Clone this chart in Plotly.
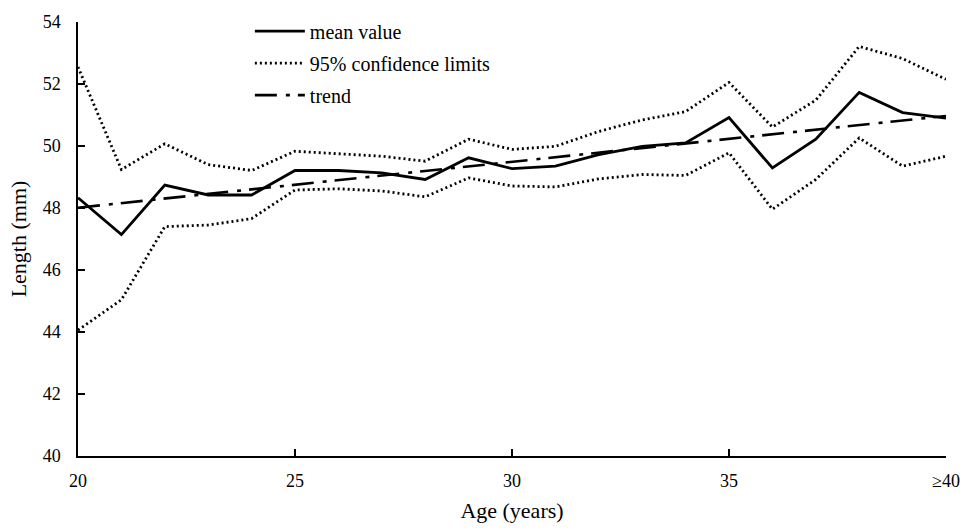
import plotly.graph_objects as go

ages = [20, 21, 22, 23, 24, 25, 26, 27, 28, 29, 30, 31, 32, 33, 34, 35, 36, 37, 38, 39, 40]
mean_value = [48.33, 47.14, 48.74, 48.42, 48.42, 49.21, 49.21, 49.13, 48.92, 49.62, 49.27,
              49.35, 49.72, 49.99, 50.10, 50.92, 49.29, 50.22, 51.73, 51.08, 50.90]
upper_ci = [52.55, 49.24, 50.07, 49.40, 49.21, 49.83, 49.75, 49.67, 49.51, 50.22, 49.89,
            49.99, 50.47, 50.84, 51.11, 52.05, 50.61, 51.48, 53.21, 52.82, 52.15]
lower_ci = [44.06, 45.04, 47.40, 47.45, 47.66, 48.58, 48.62, 48.55, 48.36, 48.97, 48.71,
            48.68, 48.94, 49.08, 49.05, 49.78, 47.96, 48.92, 50.26, 49.35, 49.67]
trend_x = [20, 40]
trend_y = [48.01, 50.97]

x_tickvals = [20, 25, 30, 35, 40]
x_ticktext = ["20", "25", "30", "35", "≥40"]
y_tickvals = [40, 42, 44, 46, 48, 50, 52, 54]

FONT = "Liberation Serif, Times New Roman, serif"

fig = go.Figure()
fig.add_trace(go.Scatter(x=ages, y=mean_value, mode="lines", name="mean value",
                         legendgroup="a", cliponaxis=False,
                         line=dict(color="black", width=2.8)))
fig.add_trace(go.Scatter(x=ages, y=upper_ci, mode="lines", name="95% confidence limits",
                         legendgroup="b", cliponaxis=False,
                         line=dict(color="black", width=2.8, dash="2px,3px")))
fig.add_trace(go.Scatter(x=ages, y=lower_ci, mode="lines", name="95% confidence limits",
                         legendgroup="b", showlegend=False, cliponaxis=False,
                         line=dict(color="black", width=2.8, dash="2px,3px")))
fig.add_trace(go.Scatter(x=trend_x, y=trend_y, mode="lines", name="trend",
                         legendgroup="c", cliponaxis=False,
                         line=dict(color="black", width=2.6, dash="22px,9px,4px,8px")))

fig.update_layout(
    width=964, height=531,
    margin=dict(l=78, r=18, t=16, b=75),
    paper_bgcolor="white", plot_bgcolor="white",
    font=dict(family=FONT, size=18, color="black"),
    showlegend=True,
    legend=dict(x=0.198, y=1.024, xanchor="left", yanchor="top",
                bgcolor="rgba(0,0,0,0)", font=dict(family=FONT, size=20),
                tracegroupgap=3, itemwidth=50),
    xaxis=dict(range=[20, 40], tickvals=x_tickvals, ticktext=x_ticktext,
               automargin=False,
               showgrid=False, zeroline=False, showline=True, linecolor="black",
               linewidth=1.5, ticks="inside", ticklen=7, tickwidth=1.5, tickcolor="black",
               ticklabelstandoff=8,
               title=dict(text="Age (years)", font=dict(family=FONT, size=22), standoff=12)),
    yaxis=dict(range=[40, 54], tickvals=y_tickvals,
               automargin=False,
               showgrid=False, zeroline=False, showline=True, linecolor="black",
               linewidth=1.5, ticks="inside", ticklen=7, tickwidth=1.5, tickcolor="black",
               ticklabelstandoff=12,
               title=dict(text="Length (mm)", font=dict(family=FONT, size=22), standoff=10)),
)

fig.write_html("out.html")
